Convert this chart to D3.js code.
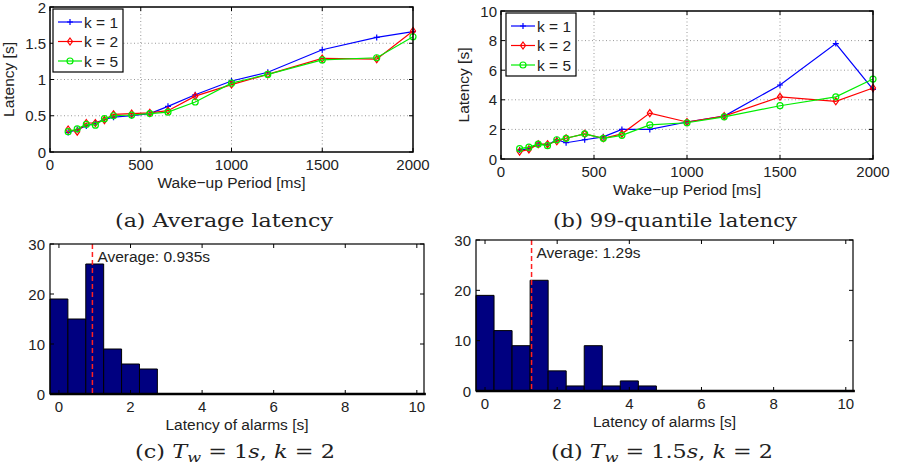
<!DOCTYPE html>
<html>
<head>
<meta charset="utf-8">
<script src="https://cdn.jsdelivr.net/npm/d3@7"></script>
<style>
body { margin: 0; background: #fff; }
svg text { font-family: "Liberation Sans", Arial, sans-serif; fill: #222; }
svg text.cap { font-family: "DejaVu Serif", "Liberation Serif", serif; fill: #222; }
</style>
</head>
<body>
<div id="chart"></div>
<script>
// wake-up periods (ms)
var periods = [100,150,200,250,300,350,450,550,650,800,1000,1200,1500,1800,2000];

// (a) average latency [s]
var avgK1 = [0.27,0.31,0.36,0.40,0.45,0.48,0.50,0.53,0.63,0.79,0.98,1.10,1.41,1.58,1.66];
var avgK2 = [0.31,0.28,0.40,0.40,0.44,0.52,0.53,0.54,0.57,0.77,0.93,1.07,1.29,1.28,1.67];
var avgK5 = [0.28,0.32,0.38,0.37,0.46,0.50,0.51,0.53,0.55,0.69,0.95,1.07,1.27,1.30,1.59];

// (b) 99-quantile latency [s]
var q99K1 = [0.6,0.7,1.0,0.95,1.3,1.1,1.3,1.5,2.0,2.0,2.5,2.9,5.0,7.8,4.7];
var q99K2 = [0.5,0.65,1.0,1.0,1.2,1.4,1.7,1.4,1.7,3.1,2.5,2.9,4.2,3.9,4.8];
var q99K5 = [0.7,0.8,1.0,0.9,1.3,1.4,1.7,1.4,1.6,2.3,2.45,2.85,3.6,4.2,5.4];

var seriesNames = ["k = 1","k = 2","k = 5"];
var seriesColors = ["#0000ff","#ff0000","#00ee00"];
var seriesMarks = ["plus","diamond","circle"];

// histograms: bin centres (s) and counts
var binCenters = [0,0.5,1,1.5,2,2.5,3,3.5,4,4.5,5,5.5,6,6.5,7,7.5,8,8.5,9,9.5,10];
var histC = [19,15,26,9,6,5,0,0,0,0,0,0,0,0,0,0,0,0,0,0,0];
var histD = [19,12,9,22,4,1,9,1,2,1,0,0,0,0,0,0,0,0,0,0,0];
var avgC = 0.935, avgD = 1.29;

var topXTicks = [0,500,1000,1500,2000];
var histXTicks = [0,2,4,6,8,10];
var histYTicks = [0,10,20,30];

var svg = d3.select("#chart").append("svg")
    .attr("width", 899).attr("height", 474);

function marker(g, type, x, y, color){
    if(type=="plus"){
        g.append("path").attr("d","M"+(x-3)+","+y+"H"+(x+3)+"M"+x+","+(y-3)+"V"+(y+3))
            .attr("stroke",color).attr("stroke-width",1.2).attr("fill","none");
    } else if(type=="diamond"){
        g.append("path").attr("d","M"+x+","+(y-3.5)+"L"+(x+2.5)+","+y+"L"+x+","+(y+3.5)+"L"+(x-2.5)+","+y+"Z")
            .attr("stroke",color).attr("stroke-width",1.2).attr("fill","none");
    } else {
        g.append("circle").attr("cx",x).attr("cy",y).attr("r",3)
            .attr("stroke",color).attr("stroke-width",1.2).attr("fill","none");
    }
}

function linePlot(o){
    var x = d3.scaleLinear().domain([0,2000]).range([o.left,o.right]);
    var y = d3.scaleLinear().domain([0,o.ymax]).range([o.bottom,o.top]);
    var g = svg.append("g");

    // dotted grid
    topXTicks.slice(1,-1).forEach(function(t){
        g.append("line").attr("x1",x(t)).attr("x2",x(t)).attr("y1",o.top).attr("y2",o.bottom)
            .attr("stroke","#999").attr("stroke-dasharray","1,2.5");
    });
    o.yticks.slice(1,-1).forEach(function(t){
        g.append("line").attr("x1",o.left).attr("x2",o.right).attr("y1",y(t)).attr("y2",y(t))
            .attr("stroke","#999").attr("stroke-dasharray","1,2.5");
    });

    // series
    var line = d3.line().x(function(d,i){ return x(periods[i]); }).y(function(d){ return y(d); });
    o.series.forEach(function(s,k){
        g.append("path").attr("d",line(s)).attr("fill","none")
            .attr("stroke",seriesColors[k]).attr("stroke-width",1.2);
        s.forEach(function(v,i){ marker(g,seriesMarks[k],x(periods[i]),y(v),seriesColors[k]); });
    });

    // box + ticks
    g.append("rect").attr("x",o.left).attr("y",o.top).attr("width",o.right-o.left).attr("height",o.bottom-o.top)
        .attr("fill","none").attr("stroke","#000").attr("stroke-width",1.5);
    topXTicks.forEach(function(t){
        g.append("path").attr("d","M"+x(t)+","+o.bottom+"v-4M"+x(t)+","+o.top+"v4").attr("stroke","#000");
        g.append("text").attr("x",x(t)).attr("y",o.bottom+18).attr("text-anchor","middle")
            .style("font-size","15px").text(t);
    });
    o.yticks.forEach(function(t){
        g.append("path").attr("d","M"+o.left+","+y(t)+"h4M"+o.right+","+y(t)+"h-4").attr("stroke","#000");
        g.append("text").attr("x",o.left-4).attr("y",y(t)+5.5).attr("text-anchor","end")
            .style("font-size","15px").text(t);
    });

    g.append("text").attr("x",(o.left+o.right)/2).attr("y",o.bottom+36).attr("text-anchor","middle")
        .style("font-size","15.5px").text("Wake\u2212up Period [ms]");
    g.append("text").attr("transform","translate("+(o.left-o.ylabOff)+","+((o.top+o.bottom)/2)+") rotate(-90)")
        .attr("text-anchor","middle").style("font-size","15.5px").text("Latency [s]");

    // legend
    var lg = g.append("g").attr("transform","translate("+o.legX+","+o.legY+")");
    lg.append("rect").attr("width",70).attr("height",63).attr("fill","#fff")
        .attr("stroke","#000").attr("stroke-width",1.2);
    seriesNames.forEach(function(n,k){
        var yy = 13 + k*19.5;
        lg.append("line").attr("x1",5).attr("x2",29).attr("y1",yy).attr("y2",yy)
            .attr("stroke",seriesColors[k]).attr("stroke-width",1.2);
        marker(lg,seriesMarks[k],17,yy,seriesColors[k]);
        lg.append("text").attr("x",31).attr("y",yy+5.5).style("font-size","15.5px").text(n);
    });

    svg.append("text").attr("class","cap").attr("x",o.capX).attr("y",227).attr("text-anchor","middle")
        .style("font-size","18px").attr("textLength",o.capW).attr("lengthAdjust","spacingAndGlyphs")
        .text(o.caption);
}

function histPlot(o){
    var x = d3.scaleLinear().domain([-0.25,10.2]).range([o.left,o.right]);
    var y = d3.scaleLinear().domain([0,30]).range([o.bottom,o.top]);
    var g = svg.append("g");

    o.counts.forEach(function(c,i){
        var x0 = x(binCenters[i]-0.25), x1 = x(binCenters[i]+0.25);
        g.append("path").attr("d","M"+x0+","+y(0)+"V"+y(c)+"H"+x1+"V"+y(0))
            .attr("fill","#000080").attr("stroke","#000").attr("stroke-width",1);
    });
    g.append("line").attr("x1",o.left).attr("x2",x(10.25)).attr("y1",o.bottom).attr("y2",o.bottom)
        .attr("stroke","#000").attr("stroke-width",2.5);

    g.append("line").attr("x1",x(o.avg)).attr("x2",x(o.avg)).attr("y1",o.top).attr("y2",o.bottom)
        .attr("stroke","#ff2020").attr("stroke-width",1.5).attr("stroke-dasharray","5,3");
    g.append("text").attr("x",x(o.avg)+5).attr("y",o.top+18).style("font-size","15.5px")
        .text("Average: "+o.avg+"s");

    g.append("rect").attr("x",o.left).attr("y",o.top).attr("width",o.right-o.left).attr("height",o.bottom-o.top)
        .attr("fill","none").attr("stroke","#000").attr("stroke-width",1.2);
    histXTicks.forEach(function(t){
        g.append("path").attr("d","M"+x(t)+","+o.bottom+"v-4M"+x(t)+","+o.top+"v4").attr("stroke","#000");
        g.append("text").attr("x",x(t)).attr("y",o.bottom+18).attr("text-anchor","middle")
            .style("font-size","15px").text(t);
    });
    histYTicks.forEach(function(t){
        g.append("path").attr("d","M"+o.left+","+y(t)+"h4M"+o.right+","+y(t)+"h-4").attr("stroke","#000");
        g.append("text").attr("x",o.left-5).attr("y",y(t)+5.5).attr("text-anchor","end")
            .style("font-size","15px").text(t);
    });
    g.append("text").attr("x",(o.left+o.right)/2).attr("y",o.bottom+36).attr("text-anchor","middle")
        .style("font-size","15.5px").text("Latency of alarms [s]");

    var cap = svg.append("text").attr("class","cap").attr("x",o.capX).attr("y",458)
        .attr("text-anchor","middle").style("font-size","18px")
        .attr("textLength",o.capW).attr("lengthAdjust","spacingAndGlyphs");
    cap.append("tspan").text("("+o.letter+") ");
    cap.append("tspan").style("font-style","italic").text("T");
    cap.append("tspan").style("font-style","italic").style("font-size","13px").attr("dy",4).text("w");
    cap.append("tspan").attr("dy",-4).text(" = "+o.tw);
    cap.append("tspan").style("font-style","italic").text("s");
    cap.append("tspan").text(", ");
    cap.append("tspan").style("font-style","italic").text("k");
    cap.append("tspan").text(" = 2");
}

linePlot({left:50,right:413,top:7,bottom:152,ymax:2,yticks:[0,0.5,1,1.5,2],ylabOff:36,
    series:[avgK1,avgK2,avgK5],legX:53,legY:9,capX:224,capW:218,caption:"(a)  Average latency"});
linePlot({left:501,right:873,top:11,bottom:159,ymax:10,yticks:[0,2,4,6,8,10],ylabOff:32,
    series:[q99K1,q99K2,q99K5],legX:506,legY:13,capX:675,capW:244,caption:"(b)  99-quantile latency"});
histPlot({left:50,right:424,top:244,bottom:394,counts:histC,avg:avgC,capX:235,capW:200,letter:"c",tw:"1"});
histPlot({left:476,right:853,top:240,bottom:391,counts:histD,avg:avgD,capX:662,capW:222,letter:"d",tw:"1.5"});
</script>
</body>
</html>
